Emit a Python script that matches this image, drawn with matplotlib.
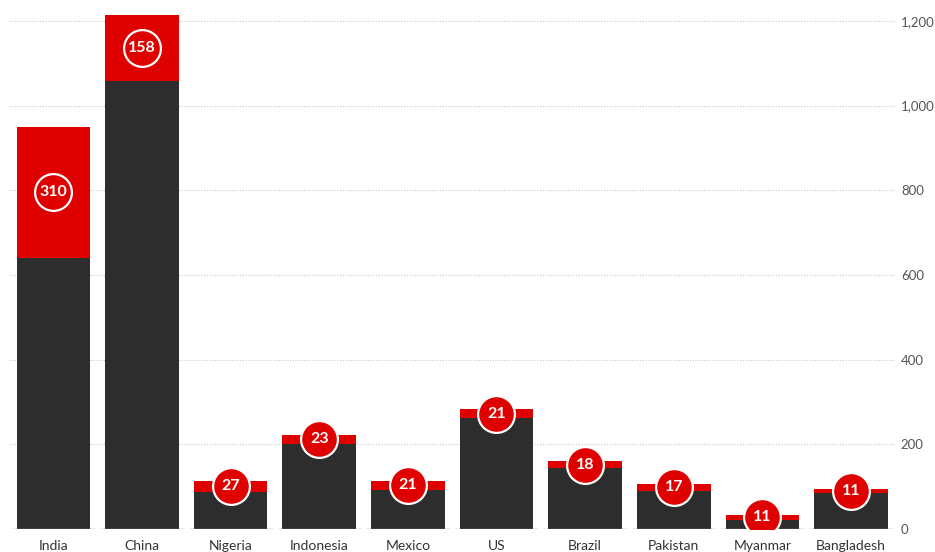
import matplotlib.pyplot as plt
import numpy as np

plt.rcParams["font.family"] = ["Lato", "DejaVu Sans"]

countries = ["India", "China", "Nigeria", "Indonesia", "Mexico",
             "US", "Brazil", "Pakistan", "Myanmar", "Bangladesh"]
totals = [950, 1215, 114, 223, 114, 283, 161, 107, 33, 95]
extra = [310, 158, 27, 23, 21, 21, 18, 17, 11, 11]
yticks = [0, 200, 400, 600, 800, 1000, 1200]

DARK = "#2d2d2d"
RED = "#df0000"

base = [t - e for t, e in zip(totals, extra)]
x = np.arange(len(countries))

fig = plt.figure(figsize=(9.35, 5.52), dpi=100)
ax = fig.add_axes([0.0096, 0.0417, 0.948, 0.9511])

# dotted gridlines, drawn behind the bars
for v in yticks[1:]:
    ax.axhline(v, color="#c8c8c8", lw=0.8, ls=(0, (1, 1.5)), zorder=0)

width = 0.83
ax.bar(x, base, width=width, color=DARK, zorder=2)
ax.bar(x, extra, width=width, bottom=base, color=RED, zorder=2)

# short grey baseline under each bar
for xi in x:
    ax.plot([xi - 0.47, xi + 0.47], [0, 0], color="#8a8a8a", lw=1.0,
            zorder=3, solid_capstyle="butt")

# value badge in the middle of each red segment
mids = [b + e / 2 for b, e in zip(base, extra)]
ax.plot(x, mids, "o", ms=26.5, mfc=RED, mec="white", mew=1.6, zorder=4, ls="none")
for xi, m, e in zip(x, mids, extra):
    ax.text(xi, m, str(e), ha="center", va="center", color="white",
            fontsize=11.5, fontweight="bold", zorder=5)

ax.set_xlim(-0.5, len(countries) - 0.5)
ax.set_ylim(0, 1240)
ax.set_xticks(x)
ax.set_xticklabels(countries, fontsize=10, color="#333333")
ax.set_yticks(yticks)
ax.set_yticklabels([f"{v:,}" for v in yticks], fontsize=9.5, color="#555555")
ax.yaxis.tick_right()
ax.tick_params(axis="both", length=0)
ax.tick_params(axis="x", pad=8)
ax.tick_params(axis="y", pad=4)
for s in ax.spines.values():
    s.set_visible(False)

fig.savefig("out.png", dpi=100)
